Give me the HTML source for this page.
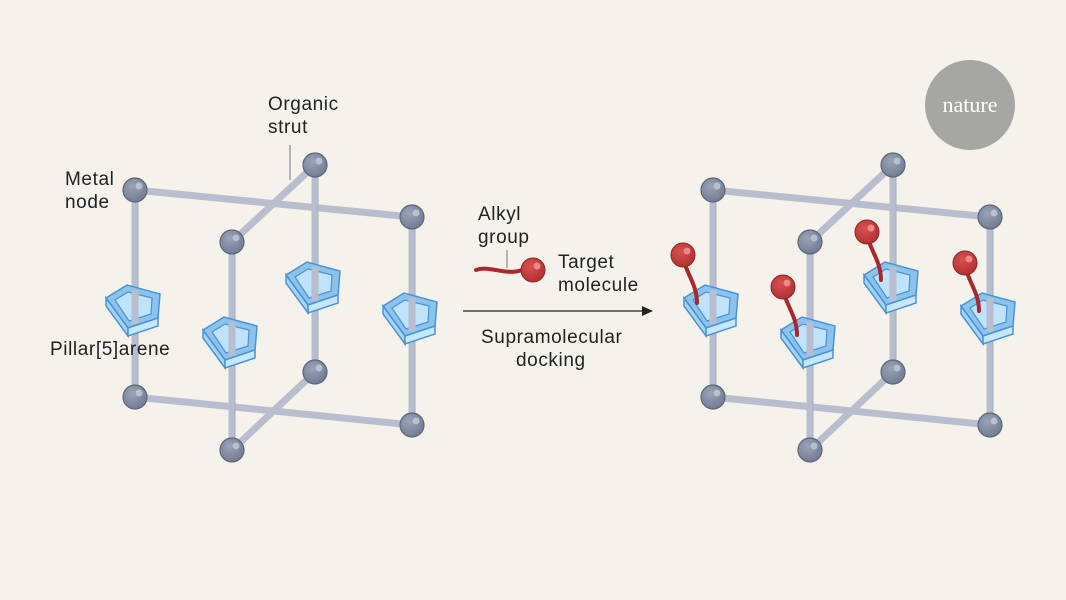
<!DOCTYPE html>
<html><head><meta charset="utf-8"><style>
html,body{margin:0;padding:0;background:#f4f2eb;}
svg{display:block}
text{font-family:"Liberation Sans",sans-serif;font-size:19px;letter-spacing:0.6px;fill:#222}
</style></head><body>
<svg width="1066" height="600" viewBox="0 0 1066 600">
<defs>
<radialGradient id="ng" cx="0.4" cy="0.35" r="0.7"><stop offset="0" stop-color="#9aa3b8"/><stop offset="1" stop-color="#6f7a90"/></radialGradient>
<radialGradient id="rg" cx="0.4" cy="0.35" r="0.7"><stop offset="0" stop-color="#d95050"/><stop offset="1" stop-color="#b02f30"/></radialGradient>
<g id="node"><circle r="12" fill="url(#ng)" stroke="#5d667a" stroke-width="1.2"/><circle cx="4" cy="-4" r="3.5" fill="#b8bfcf"/></g>
<g id="pa">
<polygon points="-29,-10 -8,-23 25,-14 23,10 -7,20" fill="#8cc3ec" stroke="#4a93d4" stroke-width="1.5"/>
<polygon points="-20,-8 -7,-16 17,-10 16,6 -6,13" fill="#bfe3fa" stroke="#4a93d4" stroke-width="1.2"/>
<line x1="0" y1="-18" x2="0" y2="16" stroke="#b8bece" stroke-width="7"/>
<polygon points="-29,-10 -7,20 -7,28 -29,-2" fill="#a5d4f4" stroke="#4a93d4" stroke-width="1.5"/>
<polygon points="-7,20 23,10 23,18 -7,28" fill="#c6e8fc" stroke="#4a93d4" stroke-width="1.5"/>
</g>
<g id="frame">
<g stroke="#b8bece" stroke-width="7" fill="none">
<line x1="135" y1="190" x2="412" y2="217"/>
<line x1="135" y1="397" x2="412" y2="425"/>
<line x1="135" y1="190" x2="135" y2="397"/>
<line x1="315" y1="165" x2="315" y2="372"/>
<line x1="412" y1="217" x2="412" y2="425"/>
<line x1="232" y1="242" x2="232" y2="450"/>
<line x1="232" y1="242" x2="315" y2="165"/>
<line x1="232" y1="450" x2="315" y2="372"/>
</g>
<g stroke="#9aa1b4" stroke-width="1" fill="none" opacity="0.6">
<line x1="138" y1="190" x2="138" y2="397"/><line x1="318" y1="165" x2="318" y2="372"/>
<line x1="415" y1="217" x2="415" y2="425"/><line x1="235" y1="242" x2="235" y2="450"/>
</g>
<use href="#pa" x="135" y="308"/><use href="#pa" x="232" y="340"/>
<use href="#pa" x="315" y="285"/><use href="#pa" x="412" y="316"/>
<use href="#node" x="135" y="190"/><use href="#node" x="315" y="165"/>
<use href="#node" x="412" y="217"/><use href="#node" x="232" y="242"/>
<use href="#node" x="135" y="397"/><use href="#node" x="315" y="372"/>
<use href="#node" x="412" y="425"/><use href="#node" x="232" y="450"/>
</g>
<g id="mol"><path d="M0,0 C2,18 14,28 14,48" stroke="#a8282b" stroke-width="4" fill="none" stroke-linecap="round"/><circle r="12" fill="url(#rg)" stroke="#8e2426" stroke-width="1"/><circle cx="4" cy="-4" r="3.5" fill="#e88"/></g>
</defs>
<use href="#frame"/>
<use href="#frame" x="578"/>
<use href="#mol" x="683" y="255"/>
<use href="#mol" x="783" y="287"/>
<use href="#mol" x="867" y="232"/>
<use href="#mol" x="965" y="263"/>
<line x1="290" y1="145" x2="290" y2="180" stroke="#777" stroke-width="1"/>
<text x="268" y="110">Organic</text><text x="268" y="133">strut</text>
<text x="65" y="185">Metal</text><text x="65" y="208">node</text>
<text x="50" y="355">Pillar[5]arene</text>
<path d="M476,270 C490,265 505,276 522,270" stroke="#a8282b" stroke-width="4" fill="none" stroke-linecap="round"/>
<circle cx="533" cy="270" r="12" fill="url(#rg)" stroke="#8e2426"/><circle cx="537" cy="266" r="3.5" fill="#e88"/>
<line x1="507" y1="250" x2="507" y2="268" stroke="#777" stroke-width="1"/>
<text x="478" y="220">Alkyl</text><text x="478" y="243">group</text>
<text x="558" y="268">Target</text><text x="558" y="291">molecule</text>
<line x1="463" y1="311" x2="643" y2="311" stroke="#222" stroke-width="1.3"/>
<polygon points="653,311 642,306 642,316" fill="#222"/>
<text x="481" y="343">Supramolecular</text><text x="516" y="366">docking</text>
<circle cx="970" cy="105" r="45" fill="#a6a6a4"/>
<text x="970" y="112" text-anchor="middle" style="font-family:'Liberation Serif',serif;font-size:22px;letter-spacing:0;fill:#fff">nature</text>
</svg>
</body></html>
